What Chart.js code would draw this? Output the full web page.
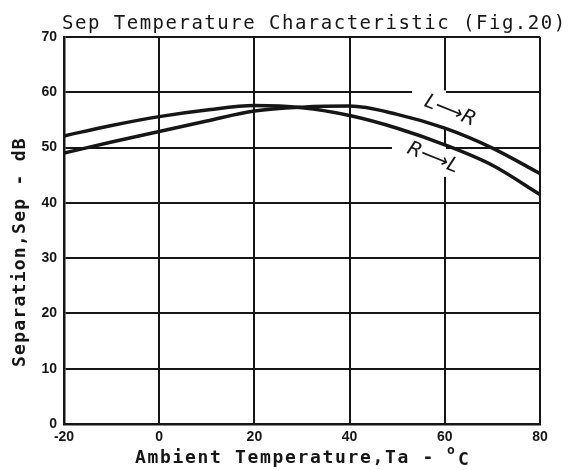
<!DOCTYPE html>
<html><head><meta charset="utf-8">
<script src="https://cdn.jsdelivr.net/npm/chart.js@4.4.1/dist/chart.umd.min.js"></script>
<style>html,body{margin:0;padding:0;background:#fff;}#wrap{width:568px;height:470px;}</style>
</head><body><div id="wrap"><canvas id="c" width="568" height="470"></canvas></div>
<script>
const temperatures = [-20, -10, 0, 10, 20, 30, 40, 50, 60, 70, 80];
const sepLtoR = [49.0, 51.0, 52.9, 54.8, 56.6, 57.3, 57.5, 56.0, 53.5, 49.9, 45.3];
const sepRtoL = [52.1, 54.0, 55.6, 56.8, 57.6, 57.2, 55.8, 53.5, 50.5, 46.8, 41.5];
const xTicks = [-20, 0, 20, 40, 60, 80];
const yTicks = [0, 10, 20, 30, 40, 50, 60, 70];
const seriesNames = ['L⟶R', 'R⟶L'];
const titleText = 'Sep Temperature Characteristic (Fig.20)';
const xTitleText = 'Ambient Temperature,Ta - ';
const xTitleDegree = 'o';
const xTitleUnit = 'C';
const yTitleText = 'Separation,Sep - dB';

const ink = '#161616';
const mono = '"DejaVu Sans Mono", "Liberation Mono", monospace';

const decor = {
  id: 'decor',
  beforeDatasetsDraw(chart, args, opts) {
    const {ctx, scales: {x, y}} = chart;
    ctx.save();
    ctx.fillStyle = '#fff';
    for (const m of opts.masks) {
      const x0 = x.getPixelForValue(m.x0), x1 = x.getPixelForValue(m.x1);
      const y0 = y.getPixelForValue(m.y1), y1 = y.getPixelForValue(m.y0);
      ctx.fillRect(x0, y0, x1 - x0, y1 - y0);
    }
    ctx.restore();
  },
  afterDatasetsDraw(chart, args, opts) {
    const {ctx, scales: {x, y}} = chart;
    ctx.save();
    ctx.fillStyle = ink;
    ctx.font = 'italic 20px "DejaVu Sans", sans-serif';
    ctx.textAlign = 'center';
    ctx.textBaseline = 'middle';
    opts.labels.forEach((l, i) => {
      ctx.save();
      ctx.translate(x.getPixelForValue(l.x), y.getPixelForValue(l.y));
      ctx.rotate(l.angle * Math.PI / 180);
      ctx.fillText(seriesNames[i], 0, 0);
      ctx.restore();
    });
    ctx.restore();
  },
  afterDraw(chart) {
    const ctx = chart.ctx;
    ctx.save();
    ctx.fillStyle = ink;
    ctx.textBaseline = 'alphabetic';
    ctx.textAlign = 'left';
    ctx.font = '19px ' + mono;
    try { ctx.letterSpacing = '1.5px'; } catch (e) {}
    ctx.fillText(titleText, 62, 29);
    ctx.font = 'bold 18px ' + mono;
    try { ctx.letterSpacing = '1.66px'; } catch (e) {}
    ctx.fillText(xTitleText, 135, 463);
    ctx.font = 'bold 13px ' + mono;
    try { ctx.letterSpacing = '0px'; } catch (e) {}
    ctx.fillText(xTitleDegree, 447, 454);
    ctx.font = 'bold 18px ' + mono;
    ctx.fillText(xTitleUnit, 458, 465);
    ctx.font = 'bold 18px ' + mono;
    try { ctx.letterSpacing = '1.26px'; } catch (e) {}
    ctx.translate(25, 367);
    ctx.rotate(-Math.PI / 2);
    ctx.fillText(yTitleText, 0, 0);
    ctx.restore();
  }
};

const tickFont = {family: '"Liberation Sans", Arial, sans-serif', size: 14, weight: 'bold'};

new Chart(document.getElementById('c'), {
  type: 'line',
  data: {
    datasets: [
      {label: seriesNames[0], data: temperatures.map((t, i) => ({x: t, y: sepLtoR[i]}))},
      {label: seriesNames[1], data: temperatures.map((t, i) => ({x: t, y: sepRtoL[i]}))}
    ]
  },
  options: {
    responsive: false,
    devicePixelRatio: 1,
    animation: false,
    layout: {padding: {top: 37, right: 28, left: 0, bottom: 0}},
    elements: {
      line: {borderColor: ink, borderWidth: 3.5, cubicInterpolationMode: 'monotone', fill: false, borderCapStyle: 'round'},
      point: {radius: 0, hoverRadius: 0}
    },
    plugins: {
      legend: {display: false},
      title: {display: false},
      tooltip: {enabled: false},
      decor: {
        masks: [
          {x0: 53.1, x1: 60.25, y0: 53.5, y1: 60.35},
          {x0: 48.9, x1: 60.25, y0: 44.7, y1: 50.45}
        ],
        labels: [
          {x: 61.1, y: 56.6, angle: 22},
          {x: 57.5, y: 48.1, angle: 22}
        ]
      }
    },
    scales: {
      x: {
        type: 'linear', min: -20, max: 80,
        afterBuildTicks: s => { s.ticks = xTicks.map(v => ({value: v})); },
        afterFit: s => { s.height = 46; },
        grid: {color: ink, lineWidth: 2, drawTicks: false},
        border: {display: true, color: ink, width: 2.5},
        ticks: {color: ink, font: tickFont, padding: 5, maxRotation: 0}
      },
      y: {
        type: 'linear', min: 0, max: 70,
        afterBuildTicks: s => { s.ticks = yTicks.map(v => ({value: v})); },
        afterFit: s => { s.width = 64; },
        grid: {color: ink, lineWidth: 2, drawTicks: false},
        border: {display: true, color: ink, width: 2.5},
        ticks: {color: ink, font: tickFont, padding: 7}
      }
    }
  },
  plugins: [decor]
});
</script>
</body></html>
